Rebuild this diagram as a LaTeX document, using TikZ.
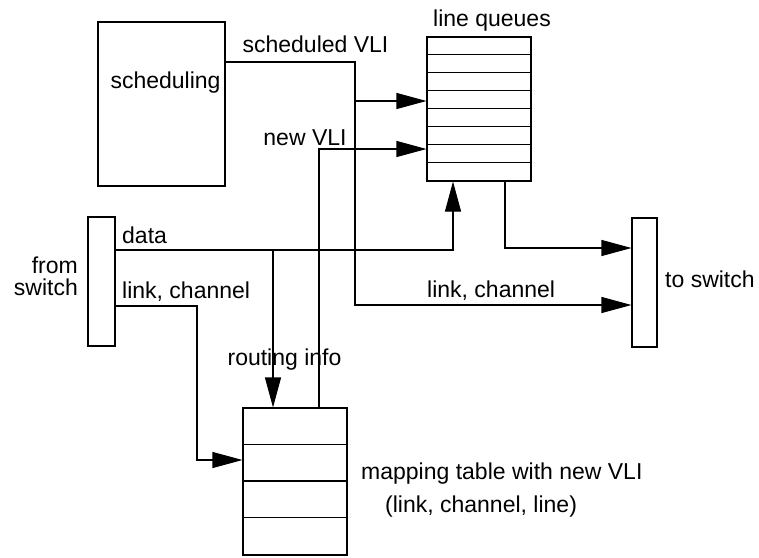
\documentclass[tikz,border=0pt]{standalone}
\usepackage{fontspec}
\setmainfont{Liberation Sans}
\usetikzlibrary{arrows.meta}

\tikzset{
  wire/.style={draw=black, line width=1.1pt},
  arr/.style={wire, -{Triangle[length=30pt,width=16pt]}},
  box/.style={draw=black, line width=1.1pt, fill=white, inner sep=0pt, rectangle},
  lbl/.style={inner sep=0pt, font=\fontsize{23}{27}\selectfont},
}

\begin{document}
\begin{tikzpicture}[x=1pt, y=-1pt]
\useasboundingbox[fill=white] (0,0) rectangle (759,557);

% blocks
\node[box, minimum width=127pt, minimum height=164pt] (sched) at (161.5,104) {};
\node[box, minimum width=104pt, minimum height=144pt] (queue) at (479,109) {};
\node[box, minimum width=104pt, minimum height=147pt] (map) at (295,481.5) {};
\node[box, minimum width=27pt, minimum height=129pt] (fromsw) at (101.5,281.5) {};
\node[box, minimum width=25pt, minimum height=129pt] (tosw) at (644.5,282.5) {};

% rows of the line queues and of the mapping table
\foreach \k in {1,...,7}
  \draw[wire] ([yshift=-18*\k pt]queue.north west) -- ([yshift=-18*\k pt]queue.north east);
\foreach \k in {1,...,3}
  \draw[wire] ([yshift=-36.75*\k pt]map.north west) -- ([yshift=-36.75*\k pt]map.north east);

% bend points of the connectors
\coordinate (svturn) at (355,62);
\coordinate (svdown) at (355,305);
\coordinate (svtap)  at (355,101);
\coordinate (nvturn) at (319,149);
\coordinate (dturn)  at (453,250);
\coordinate (rtap)   at (273,250);
\coordinate (qout)   at (505,248);
\coordinate (lcturn) at (197,306);
\coordinate (lcdown) at (197,460);

% scheduled VLI, continuing as link, channel to the switch
\draw[arr] (sched.east |- svturn) -- (svturn) -- (svdown) -- (svdown -| tosw.west);
\draw[arr] (svtap) -- (svtap -| queue.west);
% new VLI from the mapping table
\draw[arr] (map.north -| nvturn) -- (nvturn) -- (nvturn -| queue.west);
% data into the line queues, routing info into the mapping table
\draw[arr] (fromsw.east |- dturn) -- (dturn) -- (dturn |- queue.south);
\draw[arr] (rtap) -- (rtap |- map.north);
% queue output to the switch
\draw[arr] (queue.south -| qout) -- (qout) -- (qout -| tosw.west);
% link, channel into the mapping table
\draw[arr] (fromsw.east |- lcturn) -- (lcturn) -- (lcdown) -- (lcdown -| map.west);

% labels
\node[lbl, anchor=base] (tsched) at (165.5,88) {scheduling};
\node[lbl, anchor=base] (tsv) at (315.5,52) {scheduled VLI};
\node[lbl, anchor=base] (tnv) at (305,145) {new VLI};
\node[lbl, anchor=base] (tlq) at (492,26) {line queues};
\node[lbl, anchor=base west] (tdata) at (122,243) {data};
\node[lbl, anchor=base west] (tlc1) at (122,298) {link, channel};
\node[lbl, anchor=base west] (tlc2) at (427,297) {link, channel};
\node[lbl, anchor=base east] (tfrom) at (78,273) {from};
\node[lbl, anchor=base east] (tswitch) at (78,295) {switch};
\node[lbl, anchor=base west] (tto) at (665,287) {to switch};
\node[lbl, anchor=base] (troute) at (284.5,365) {routing info};
\node[lbl, anchor=base west] (tmap) at (361,479) {mapping table with new VLI};
\node[lbl, anchor=base west] (tmap2) at (385,512) {(link, channel, line)};
\end{tikzpicture}
\end{document}
